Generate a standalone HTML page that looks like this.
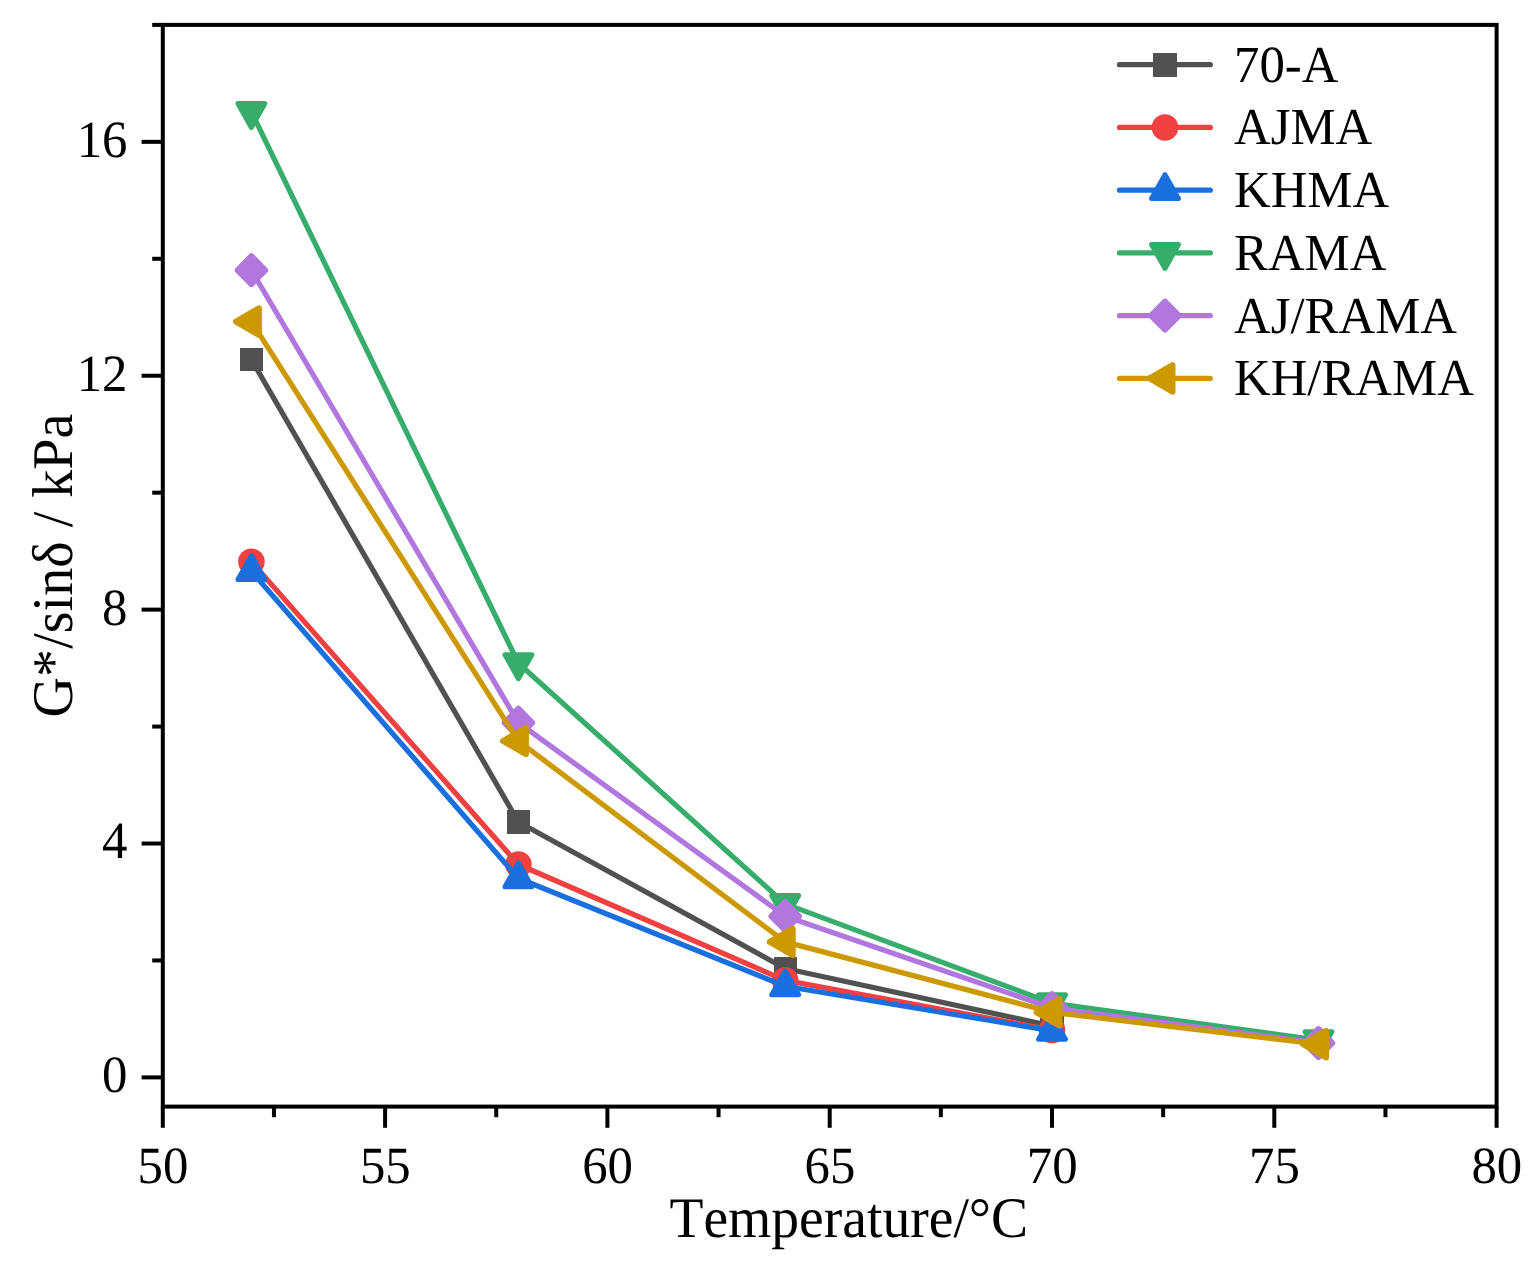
<!DOCTYPE html>
<html lang="en"><head><meta charset="utf-8"><title>G*/sinδ vs Temperature</title>
<style>
html,body{margin:0;padding:0;background:#fff;}
body{width:1539px;height:1263px;overflow:hidden;}
svg{display:block;}
text{font-family:"Liberation Serif","Times New Roman",Times,serif;fill:#000;font-kerning:none;font-variant-ligatures:none;text-rendering:geometricPrecision;}
.tick{font-size:50.8px;}
.title{font-size:56.1px;}
.xtitle{font-size:55.6px;}
.leg{font-size:50.8px;}
</style></head><body>
<svg width="1539" height="1263" viewBox="0 0 1539 1263">
<rect x="0" y="0" width="1539" height="1263" fill="#ffffff"/>
<g id="series">
<g>
<polyline points="251.4,359.5 518.4,822 785.2,968.5 1052,1026" fill="none" stroke="#515151" stroke-width="5.25" stroke-linejoin="round" stroke-linecap="round"/>
<rect x="240" y="348" width="23" height="23" fill="#515151"/>
<rect x="507" y="810" width="23" height="24" fill="#515151"/>
<rect x="774" y="957" width="23" height="23" fill="#515151"/>
<rect x="1040" y="1014" width="24" height="24" fill="#515151"/>
</g>
<g>
<polyline points="251.4,561.7 518.4,864.5 785.2,980.4 1052,1030" fill="none" stroke="#F14040" stroke-width="5.25" stroke-linejoin="round" stroke-linecap="round"/>
<circle cx="251.4" cy="561.7" r="13.3" fill="#F14040"/>
<circle cx="518.4" cy="864.5" r="13.3" fill="#F14040"/>
<circle cx="785.2" cy="980.4" r="13.3" fill="#F14040"/>
<circle cx="1052" cy="1030" r="13.3" fill="#F14040"/>
</g>
<g>
<polyline points="251.4,571.15 518.4,878.3 785.2,986.25 1052,1030.8" fill="none" stroke="#1A6FDF" stroke-width="5.25" stroke-linejoin="round" stroke-linecap="round"/>
<polygon points="251.4,555.65 264.85,579.55 237.95,579.55" fill="#1A6FDF" stroke="#1A6FDF" stroke-width="5" stroke-linejoin="round"/>
<polygon points="518.4,862.8 531.85,886.7 504.95,886.7" fill="#1A6FDF" stroke="#1A6FDF" stroke-width="5" stroke-linejoin="round"/>
<polygon points="785.2,970.75 798.65,994.65 771.75,994.65" fill="#1A6FDF" stroke="#1A6FDF" stroke-width="5" stroke-linejoin="round"/>
<polygon points="1052,1015.3 1065.45,1039.2 1038.55,1039.2" fill="#1A6FDF" stroke="#1A6FDF" stroke-width="5" stroke-linejoin="round"/>
</g>
<g>
<polyline points="251.4,111.95 518.4,663.2 785.2,903.84 1052,1003.2 1318.5,1040.05" fill="none" stroke="#37AD6B" stroke-width="5.25" stroke-linejoin="round" stroke-linecap="round"/>
<polygon points="251.4,127.45 264.85,103.55 237.95,103.55" fill="#37AD6B" stroke="#37AD6B" stroke-width="5" stroke-linejoin="round"/>
<polygon points="518.4,678.7 531.85,654.8 504.95,654.8" fill="#37AD6B" stroke="#37AD6B" stroke-width="5" stroke-linejoin="round"/>
<polygon points="785.2,919.34 798.65,895.44 771.75,895.44" fill="#37AD6B" stroke="#37AD6B" stroke-width="5" stroke-linejoin="round"/>
<polygon points="1052,1018.7 1065.45,994.8 1038.55,994.8" fill="#37AD6B" stroke="#37AD6B" stroke-width="5" stroke-linejoin="round"/>
<polygon points="1318.5,1055.55 1331.95,1031.65 1305.05,1031.65" fill="#37AD6B" stroke="#37AD6B" stroke-width="5" stroke-linejoin="round"/>
</g>
<g>
<polyline points="251.4,270.2 518.4,722.7 785.2,916.2 1052,1008 1318.5,1043" fill="none" stroke="#B177DE" stroke-width="5.25" stroke-linejoin="round" stroke-linecap="round"/>
<polygon points="251.4,256.6 264.8,270.2 251.4,283.8 238,270.2" fill="#B177DE" stroke="#B177DE" stroke-width="6.6" stroke-linejoin="round"/>
<polygon points="518.4,709.1 531.8,722.7 518.4,736.3 505,722.7" fill="#B177DE" stroke="#B177DE" stroke-width="6.6" stroke-linejoin="round"/>
<polygon points="785.2,902.6 798.6,916.2 785.2,929.8 771.8,916.2" fill="#B177DE" stroke="#B177DE" stroke-width="6.6" stroke-linejoin="round"/>
<polygon points="1052,994.4 1065.4,1008 1052,1021.6 1038.6,1008" fill="#B177DE" stroke="#B177DE" stroke-width="6.6" stroke-linejoin="round"/>
<polygon points="1318.5,1029.4 1331.9,1043 1318.5,1056.6 1305.1,1043" fill="#B177DE" stroke="#B177DE" stroke-width="6.6" stroke-linejoin="round"/>
</g>
<g>
<polyline points="251.4,321.6 518.4,741 785.2,941.9 1052,1012.3 1318.5,1044.2" fill="none" stroke="#CC9900" stroke-width="5.25" stroke-linejoin="round" stroke-linecap="round"/>
<polygon points="236,321.6 258.9,308.35 258.9,334.85" fill="#CC9900" stroke="#CC9900" stroke-width="6" stroke-linejoin="round"/>
<polygon points="503,741 525.9,727.75 525.9,754.25" fill="#CC9900" stroke="#CC9900" stroke-width="6" stroke-linejoin="round"/>
<polygon points="769.8,941.9 792.7,928.65 792.7,955.15" fill="#CC9900" stroke="#CC9900" stroke-width="6" stroke-linejoin="round"/>
<polygon points="1036.6,1012.3 1059.5,999.05 1059.5,1025.55" fill="#CC9900" stroke="#CC9900" stroke-width="6" stroke-linejoin="round"/>
<polygon points="1303.1,1044.2 1326,1030.95 1326,1057.45" fill="#CC9900" stroke="#CC9900" stroke-width="6" stroke-linejoin="round"/>
</g>
</g>
<g id="axes" stroke="#000" stroke-width="4" fill="none" stroke-linecap="butt">
<rect x="162.8" y="24.9" width="1333.8" height="1081.7"/>
<line x1="162.8" y1="1106.6" x2="162.8" y2="1127.8"/>
<line x1="273.95" y1="1106.6" x2="273.95" y2="1117.2"/>
<line x1="385.1" y1="1106.6" x2="385.1" y2="1127.8"/>
<line x1="496.25" y1="1106.6" x2="496.25" y2="1117.2"/>
<line x1="607.4" y1="1106.6" x2="607.4" y2="1127.8"/>
<line x1="718.55" y1="1106.6" x2="718.55" y2="1117.2"/>
<line x1="829.7" y1="1106.6" x2="829.7" y2="1127.8"/>
<line x1="940.85" y1="1106.6" x2="940.85" y2="1117.2"/>
<line x1="1052" y1="1106.6" x2="1052" y2="1127.8"/>
<line x1="1163.15" y1="1106.6" x2="1163.15" y2="1117.2"/>
<line x1="1274.3" y1="1106.6" x2="1274.3" y2="1127.8"/>
<line x1="1385.45" y1="1106.6" x2="1385.45" y2="1117.2"/>
<line x1="1496.6" y1="1106.6" x2="1496.6" y2="1127.8"/>
<line x1="141.6" y1="1077.4" x2="162.8" y2="1077.4"/>
<line x1="152.2" y1="960.46" x2="162.8" y2="960.46"/>
<line x1="141.6" y1="843.51" x2="162.8" y2="843.51"/>
<line x1="152.2" y1="726.57" x2="162.8" y2="726.57"/>
<line x1="141.6" y1="609.62" x2="162.8" y2="609.62"/>
<line x1="152.2" y1="492.68" x2="162.8" y2="492.68"/>
<line x1="141.6" y1="375.74" x2="162.8" y2="375.74"/>
<line x1="152.2" y1="258.79" x2="162.8" y2="258.79"/>
<line x1="141.6" y1="141.85" x2="162.8" y2="141.85"/>
<line x1="152.2" y1="24.9" x2="162.8" y2="24.9"/>
</g>
<g id="xlabels">
<text class="tick" text-anchor="middle" transform="translate(163,1182.5) scale(1,1.03)">50</text>
<text class="tick" text-anchor="middle" transform="translate(385.3,1182.5) scale(1,1.03)">55</text>
<text class="tick" text-anchor="middle" transform="translate(607.6,1182.5) scale(1,1.03)">60</text>
<text class="tick" text-anchor="middle" transform="translate(829.9,1182.5) scale(1,1.03)">65</text>
<text class="tick" text-anchor="middle" transform="translate(1052.2,1182.5) scale(1,1.03)">70</text>
<text class="tick" text-anchor="middle" transform="translate(1274.5,1182.5) scale(1,1.03)">75</text>
<text class="tick" text-anchor="middle" transform="translate(1496.8,1182.5) scale(1,1.03)">80</text>
</g>
<g id="ylabels">
<text class="tick" text-anchor="end" transform="translate(127.5,1092.35) scale(1,1.03)">0</text>
<text class="tick" text-anchor="end" transform="translate(127.5,858.46) scale(1,1.03)">4</text>
<text class="tick" text-anchor="end" transform="translate(127.5,624.57) scale(1,1.03)">8</text>
<text class="tick" text-anchor="end" transform="translate(127.5,390.69) scale(1,1.03)">12</text>
<text class="tick" text-anchor="end" transform="translate(127.5,156.8) scale(1,1.03)">16</text>
</g>
<text class="xtitle" text-anchor="middle" transform="translate(848.8,1237.1) scale(1,1.03)">Temperature/°C</text>
<text class="title" text-anchor="middle" transform="translate(72,565.5) rotate(-90) scale(1,1.025)">G*/sinδ / kPa</text>
<g id="legend">
<line x1="1119.5" y1="64.7" x2="1210.3" y2="64.7" stroke="#515151" stroke-width="5.25" stroke-linecap="round"/>
<rect x="1153" y="53" width="24" height="24" fill="#515151"/>
<text class="leg" transform="translate(1234,81.6) scale(1,1.025)">70-A</text>
<line x1="1119.5" y1="127.44" x2="1210.3" y2="127.44" stroke="#F14040" stroke-width="5.25" stroke-linecap="round"/>
<circle cx="1165" cy="127.44" r="13.3" fill="#F14040"/>
<text class="leg" transform="translate(1234,144.34) scale(1,1.025)">AJMA</text>
<line x1="1119.5" y1="190.18" x2="1210.3" y2="190.18" stroke="#1A6FDF" stroke-width="5.25" stroke-linecap="round"/>
<polygon points="1165,174.68 1178.45,198.58 1151.55,198.58" fill="#1A6FDF" stroke="#1A6FDF" stroke-width="5" stroke-linejoin="round"/>
<text class="leg" transform="translate(1234,207.08) scale(1,1.025)">KHMA</text>
<line x1="1119.5" y1="252.92" x2="1210.3" y2="252.92" stroke="#37AD6B" stroke-width="5.25" stroke-linecap="round"/>
<polygon points="1165,268.42 1178.45,244.52 1151.55,244.52" fill="#37AD6B" stroke="#37AD6B" stroke-width="5" stroke-linejoin="round"/>
<text class="leg" transform="translate(1234,269.82) scale(1,1.025)">RAMA</text>
<line x1="1119.5" y1="315.66" x2="1210.3" y2="315.66" stroke="#B177DE" stroke-width="5.25" stroke-linecap="round"/>
<polygon points="1165,302.06 1178.4,315.66 1165,329.26 1151.6,315.66" fill="#B177DE" stroke="#B177DE" stroke-width="6.6" stroke-linejoin="round"/>
<text class="leg" transform="translate(1234,332.56) scale(1,1.025)">AJ/RAMA</text>
<line x1="1119.5" y1="378.4" x2="1210.3" y2="378.4" stroke="#CC9900" stroke-width="5.25" stroke-linecap="round"/>
<polygon points="1149.6,378.4 1172.5,365.15 1172.5,391.65" fill="#CC9900" stroke="#CC9900" stroke-width="6" stroke-linejoin="round"/>
<text class="leg" transform="translate(1234,395.3) scale(1,1.025)">KH/RAMA</text>
</g>
</svg></body></html>
